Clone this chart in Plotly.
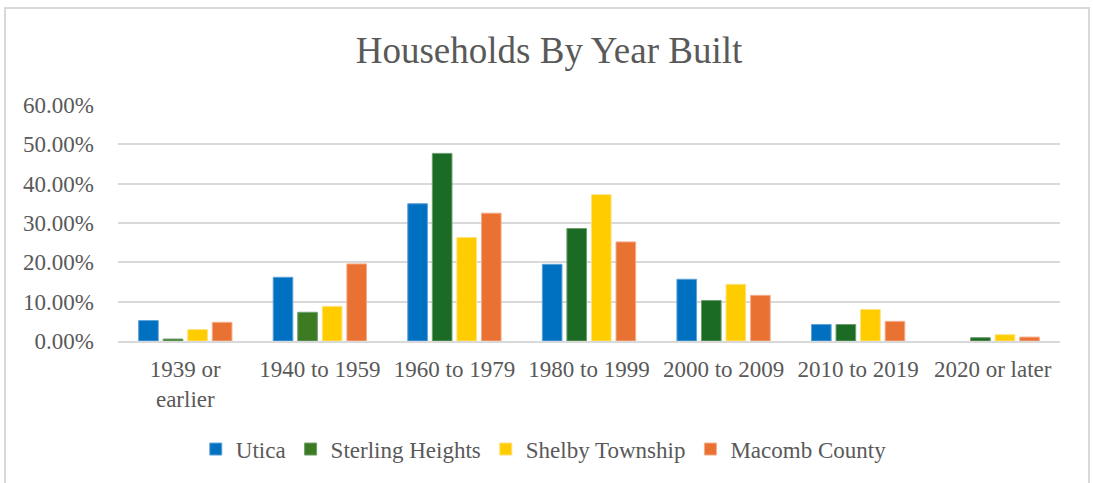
import plotly.graph_objects as go

categories = ["1939 or<br>earlier", "1940 to 1959", "1960 to 1979", "1980 to 1999",
              "2000 to 2009", "2010 to 2019", "2020 or later"]
utica = [0.052, 0.162, 0.349, 0.195, 0.157, 0.042, 0.0]
sterling = [0.005, 0.073, 0.477, 0.286, 0.103, 0.042, 0.0085]
shelby = [0.029, 0.088, 0.263, 0.372, 0.144, 0.080, 0.016]
macomb = [0.0475, 0.196, 0.325, 0.252, 0.116, 0.050, 0.010]
tick_vals = [0, 0.1, 0.2, 0.3, 0.4, 0.5, 0.6]
tick_text = ["0.00%", "10.00%", "20.00%", "30.00%", "40.00%", "50.00%", "60.00%"]

sterling_colors = ["#3D7B22", "#3D7B22", "#1B6B24", "#1B6B24", "#1B6B24", "#1B6B24", "#1B6B24"]

series = [
    ("Utica", utica, "#0070C0", "#5FA3D8"),
    ("Sterling Heights", sterling, sterling_colors, "#6E9E70"),
    ("Shelby Township", shelby, "#FFCC00", "#FFE27A"),
    ("Macomb County", macomb, "#E97132", "#F4AE8A"),
]

fig = go.Figure()
for name, vals, col, edge in series:
    widths = [1 if v > 0 else 0 for v in vals]
    fig.add_trace(go.Bar(
        x=categories, y=vals, name=name,
        marker=dict(color=col, line=dict(color=edge, width=widths)),
    ))

font_family = "Liberation Serif, Times New Roman, serif"
fig.update_layout(
    width=1093, height=483,
    margin=dict(l=118, r=33, t=105, b=142),
    paper_bgcolor="white", plot_bgcolor="white",
    barmode="group", bargap=0.27, bargroupgap=0.2,
    font=dict(family=font_family, color="#595959", size=23),
    title=dict(text="Households By Year Built", x=549 / 1093, xanchor="center",
               y=1 - 50 / 483, yanchor="middle",
               font=dict(size=37, color="#595959", family=font_family)),
    legend=dict(orientation="h", x=0.452, xanchor="center",
                y=-0.458, yanchor="middle",
                font=dict(size=23, color="#595959"),
                itemwidth=30, traceorder="normal"),
    showlegend=True,
)
fig.update_yaxes(range=[0, 0.6], tickvals=tick_vals, ticktext=tick_text,
                 showgrid=True, gridcolor="#D9D9D9", gridwidth=1.5,
                 zeroline=False, showline=False, ticks="",
                 ticklabelstandoff=23,
                 tickfont=dict(size=23, color="#595959"))
fig.update_xaxes(showline=True, linecolor="#D9D9D9", linewidth=2,
                 ticks="", showgrid=False,
                 tickfont=dict(size=23, color="#595959"),
                 ticklabelstandoff=6)

fig.add_shape(type="rect", xref="paper", yref="paper",
              x0=(5 - 118) / 942, x1=(1089 - 118) / 942,
              y0=(341 - 495) / 236, y1=(341 - 8) / 236,
              line=dict(color="#D9D9D9", width=2), fillcolor="rgba(0,0,0,0)",
              layer="below")

fig.write_html("out.html", config={"displayModeBar": False},
               post_script="document.body.style.margin='0px';")
